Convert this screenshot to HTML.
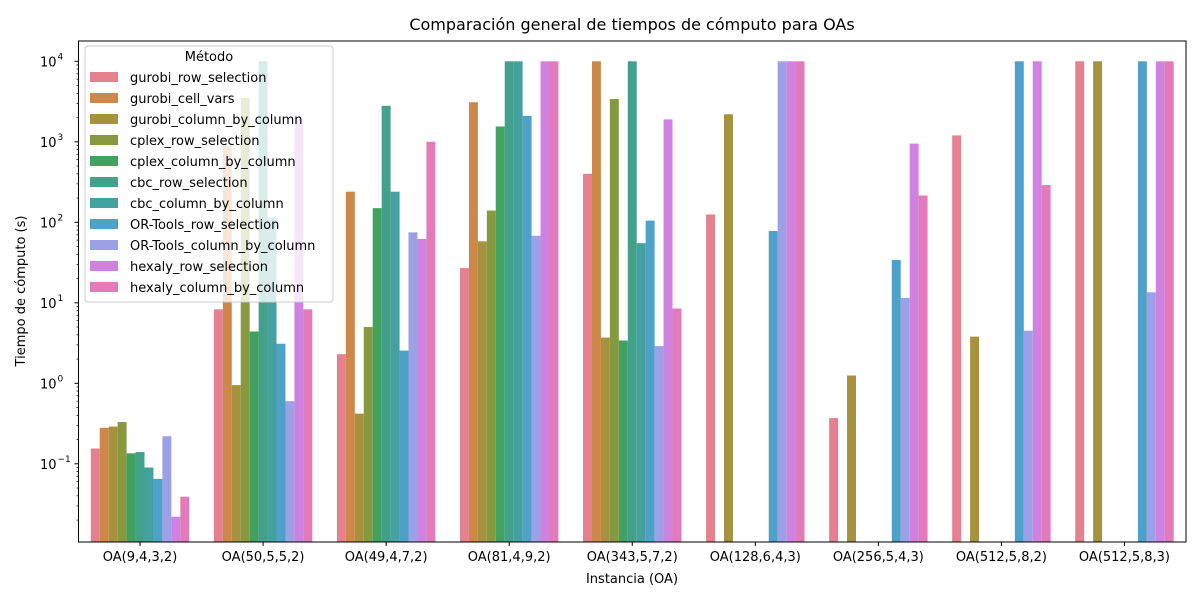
<!DOCTYPE html>
<html><head><meta charset="utf-8"><style>
body{margin:0;background:#fff;font-family:"Liberation Sans","DejaVu Sans",sans-serif}
svg text{font-family:"DejaVu Sans","Liberation Sans",sans-serif}
</style></head><body>
<svg id="chart" width="1200" height="600">
<rect width="1200" height="600" fill="#fff"/>
<text x="632" y="30" font-size="16" text-anchor="middle">Comparación general de tiempos de cómputo para OAs</text>
<g id="bars"></g>
<g id="axes"></g>
<text x="632" y="583" font-size="13" text-anchor="middle">Instancia (OA)</text>
<text transform="translate(25,291) rotate(-90)" font-size="13" text-anchor="middle">Tiempo de cómputo (s)</text>
<g id="legend"></g>
</svg>
<script>
const categories=["OA(9,4,3,2)","OA(50,5,5,2)","OA(49,4,7,2)","OA(81,4,9,2)","OA(343,5,7,2)","OA(128,6,4,3)","OA(256,5,4,3)","OA(512,5,8,2)","OA(512,5,8,3)"];
const methods=["gurobi_row_selection","gurobi_cell_vars","gurobi_column_by_column","cplex_row_selection","cplex_column_by_column","cbc_row_selection","cbc_column_by_column","OR-Tools_row_selection","OR-Tools_column_by_column","hexaly_row_selection","hexaly_column_by_column"];
const colors=["#e5808e","#cd8748","#a6913f","#86993f","#41a25f","#43a08a","#45a0a0","#4ea1c8","#9ca0e6","#d082e2","#e37ab9"];
const gurobi_row_selection=[0.155,8.3,2.3,27,400,125,0.37,1200,10000];
const gurobi_cell_vars=[0.28,900,240,3100,10000,null,null,null,null];
const gurobi_column_by_column=[0.29,0.95,0.42,58,3.7,2200,1.25,3.8,10000];
const cplex_row_selection=[0.33,3500,5,140,3400,null,null,null,null];
const cplex_column_by_column=[0.135,4.4,150,1550,3.4,null,null,null,null];
const cbc_row_selection=[0.14,10000,2800,10000,10000,null,null,null,null];
const cbc_column_by_column=[0.09,115,240,10000,55,null,null,null,null];
const ortools_row_selection=[0.065,3.1,2.55,2100,105,78,34,10000,10000];
const ortools_column_by_column=[0.22,0.6,75,68,2.9,10000,11.5,4.5,13.5];
const hexaly_row_selection=[0.022,1900,62,10000,1900,10000,950,10000,10000];
const hexaly_column_by_column=[0.039,8.3,1000,10000,8.5,10000,215,290,10000];
const series=[gurobi_row_selection,gurobi_cell_vars,gurobi_column_by_column,cplex_row_selection,cplex_column_by_column,cbc_row_selection,cbc_column_by_column,ortools_row_selection,ortools_column_by_column,hexaly_row_selection,hexaly_column_by_column];
const yTicks=[0.1,1,10,100,1000,10000];
const yTickLabels=["−1","0","1","2","3","4"];

const L=78.5,R=1186,T=41,B=542;
const dec=80.5, y4=61.3;
const y=v=>y4+(4-Math.log10(v))*dec;
const gw=(R-L)/categories.length;
const xc=i=>L+gw*(i+0.5);
const bw=gw*0.8/methods.length;
const NS="http://www.w3.org/2000/svg";
function mk(t,a,p){const e=document.createElementNS(NS,t);for(const k in a)e.setAttribute(k,a[k]);p.appendChild(e);return e;}
const bars=document.getElementById('bars');
series.forEach((s,m)=>{s.forEach((v,i)=>{if(v==null)return;
const x0=xc(i)-gw*0.4+m*bw;const yy=Math.max(T,Math.min(B,y(v)));
const r=mk('rect',{x:x0,y:yy,width:bw,height:B-yy,fill:colors[m]},bars);

});});
const ax=document.getElementById('axes');
mk('rect',{x:L,y:T,width:R-L,height:B-T,fill:'none',stroke:'#000','stroke-width':1},ax);
categories.forEach((c,i)=>{mk('line',{x1:xc(i),x2:xc(i),y1:B,y2:B+4,stroke:'#000'},ax);
const t=mk('text',{x:xc(i),y:B+19,'font-size':13,'text-anchor':'middle'},ax);t.textContent=c;

});
yTicks.forEach((v,k)=>{const yy=y(v);mk('line',{x1:L-4,x2:L,y1:yy,y2:yy,stroke:'#000'},ax);
const t=mk('text',{x:L-22,y:yy+5,'font-size':13,'text-anchor':'end'},ax);t.textContent='10';


const s=mk('text',{x:L-21,y:yy-2,'font-size':9,'text-anchor':'start'},ax);s.textContent=yTickLabels[k];});
for(let d=-2;d<=4;d++)for(let j=2;j<=9;j++){const v=j*Math.pow(10,d);const yy=y(v);if(yy<T||yy>B)continue;
mk('line',{x1:L-2,x2:L,y1:yy,y2:yy,stroke:'#000','stroke-width':0.7},ax);}
const lg=document.getElementById('legend');
mk('rect',{x:85,y:46,width:248,height:256,rx:3,fill:'#fff','fill-opacity':0.8,stroke:'#ccc'},lg);
const lt=mk('text',{x:209,y:61,'font-size':13,'text-anchor':'middle'},lg);lt.textContent='Método';
methods.forEach((m,k)=>{const yy=77+k*21;
mk('rect',{x:90,y:yy-5,width:28,height:10,fill:colors[k]},lg);
const t=mk('text',{x:130,y:yy+5,'font-size':13},lg);t.textContent=m;

});
</script>
</body></html>
